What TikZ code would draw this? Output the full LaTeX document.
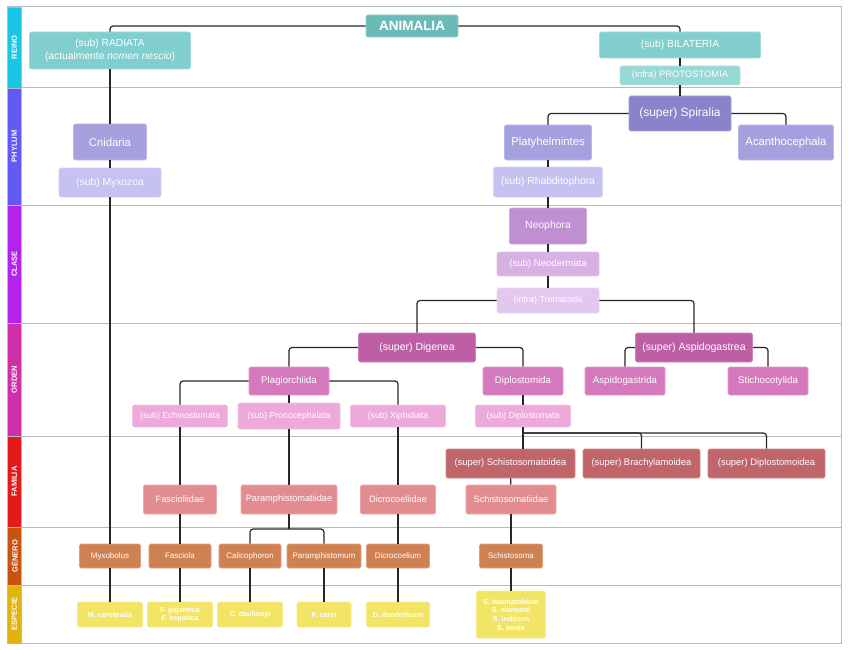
\documentclass[tikz,border=0pt]{standalone}
\usepackage{fontspec}
\setmainfont{Liberation Sans}
\usepackage{tikz}
\usetikzlibrary{
  chains,
  scopes,
  positioning
}

\definecolor{bandReino}{HTML}{1AC6E6}
\definecolor{bandPhylum}{HTML}{615AF7}
\definecolor{bandClase}{HTML}{B422EE}
\definecolor{bandOrden}{HTML}{D02FA9}
\definecolor{bandFamilia}{HTML}{E3191A}
\definecolor{bandGenero}{HTML}{C9520F}
\definecolor{bandEspecie}{HTML}{E2B30E}
\definecolor{frameGray}{HTML}{B5B9C1}
\definecolor{cAnimalia}{HTML}{6CBAB8}
\definecolor{cReino}{HTML}{80CECE}
\definecolor{cInfraReino}{HTML}{95D8D6}
\definecolor{cSuperPhylum}{HTML}{8883CA}
\definecolor{cPhylum}{HTML}{A5A1DE}
\definecolor{cSubPhylum}{HTML}{C5C1F0}
\definecolor{cClase}{HTML}{BE8FD1}
\definecolor{cSubClase}{HTML}{D6B1E2}
\definecolor{cInfraClase}{HTML}{E2C8EE}
\definecolor{cSuperOrden}{HTML}{BE5FA5}
\definecolor{cOrden}{HTML}{D579BE}
\definecolor{cSubOrden}{HTML}{EDA9D9}
\definecolor{cSuperFamilia}{HTML}{C06569}
\definecolor{cFamilia}{HTML}{E28C8F}
\definecolor{cGenero}{HTML}{D08152}
\definecolor{cEspecie}{HTML}{F2E565}

\begin{document}
\begin{tikzpicture}[
      x=1pt, y=-1pt,
      taxon/.style={
         rectangle,
         rounded corners=1.5pt,
         fill=#1,
         draw=#1!75!white,
         line width=0.6pt,
         text=white,
         inner sep=1pt,
         align=center
      },
      animalia/.style={taxon=cAnimalia, font=\bfseries\fontsize{13.5}{15}\selectfont},
      reino/.style={taxon=cReino, font=\fontsize{10.3}{12.5}\selectfont},
      infrareino/.style={taxon=cInfraReino, font=\fontsize{9.4}{11}\selectfont},
      superphylum/.style={taxon=cSuperPhylum, font=\fontsize{12}{14}\selectfont},
      phylum/.style={taxon=cPhylum, font=\fontsize{11.3}{13}\selectfont},
      subphylum/.style={taxon=cSubPhylum, font=\fontsize{10.3}{12}\selectfont},
      clase/.style={taxon=cClase, font=\fontsize{10.4}{12}\selectfont},
      subclase/.style={taxon=cSubClase, font=\fontsize{9.6}{11}\selectfont},
      infraclase/.style={taxon=cInfraClase, font=\fontsize{8.9}{10}\selectfont},
      superorden/.style={taxon=cSuperOrden, font=\fontsize{10.5}{12}\selectfont},
      orden/.style={taxon=cOrden, font=\fontsize{9.7}{11}\selectfont},
      suborden/.style={taxon=cSubOrden, font=\fontsize{8.7}{10}\selectfont},
      superfamilia/.style={taxon=cSuperFamilia, font=\fontsize{9.4}{11}\selectfont},
      familia/.style={taxon=cFamilia, font=\fontsize{9.2}{11}\selectfont},
      genero/.style={taxon=cGenero, font=\fontsize{8}{9.5}\selectfont},
      especie/.style={taxon=cEspecie, font=\bfseries\fontsize{7.2}{8.7}\selectfont},
      band/.style={rotate=90, text=white, font=\bfseries\fontsize{7.5}{8}\selectfont},
      frame/.style={draw=frameGray, line width=1pt},
      point/.style={coordinate},
      every join/.style={rounded corners=3pt, draw=black!85, line width=1.2pt},
      hv path/.style={to path={-| (\tikztotarget)}},
      vh path/.style={to path={|- (\tikztotarget)}}
    ]
    \useasboundingbox (0,0) rectangle (848,650);

    % rows and ranks
    \draw[frame] (7,7) rectangle (841,643);
    \foreach \y in {88,205,323,436,527,585}
       \draw[frame] (7,\y) -- (841,\y);
    \foreach \ya/\yb/\col/\lab [count=\i] in {7/88/bandReino/REINO, 88/205/bandPhylum/PHYLUM,
          205/323/bandClase/CLASE, 323/436/bandOrden/ORDEN, 436/527/bandFamilia/FAMILIA,
          527/585/bandGenero/GÉNERO, 585/643/bandEspecie/ESPECIE} {
       \filldraw[fill=\col, draw=frameGray, line width=0.8pt] (7,\ya) rectangle (21.5,\yb);
       \node (band\i) [band] at (14.3,{(\ya+\yb)/2}) {\lab};
    }

    % reino
    \node (anim) [animalia, minimum width=92, minimum height=22] at (412,26) {ANIMALIA};
    \node (radiata) [reino, minimum width=161, minimum height=37] at (110,50.5) {(sub) RADIATA\\(actualmente \textit{nomen nescio})};
    \node (bilateria) [reino, minimum width=161, minimum height=26] at (680,45) {(sub) BILATERIA};
    \node (protostomia) [infrareino, minimum width=120, minimum height=19] at (680,75.5) {(infra) PROTOSTOMIA};
    % phylum
    \node (spiralia) [superphylum, minimum width=102, minimum height=35] at (680,113.5) {(super) Spiralia};
    \node (cnidaria) [phylum, minimum width=73, minimum height=36] at (110,142) {Cnidaria};
    \node (platy) [phylum, minimum width=87, minimum height=35] at (548,142.5) {Platyhelmintes};
    \node (acantho) [phylum, minimum width=95, minimum height=35] at (786,142.5) {Acanthocephala};
    \node (myxozoa) [subphylum, minimum width=102, minimum height=29] at (110,182.5) {(sub) Myxozoa};
    \node (rhabdito) [subphylum, minimum width=109, minimum height=30] at (548,182) {(sub) Rhabditophora};
    % clase
    \node (neophora) [clase, minimum width=77, minimum height=36] at (548,226) {Neophora};
    \node (neodermata) [subclase, minimum width=102, minimum height=24] at (548,264) {(sub) Neodermata};
    \node (trematoda) [infraclase, minimum width=102, minimum height=25] at (548,300.5) {(infra) Trematoda};
    % orden
    \node (digenea) [superorden, minimum width=117, minimum height=29] at (417,347.5) {(super) Digenea};
    \node (aspidogastrea) [superorden, minimum width=117, minimum height=29] at (694,347.5) {(super) Aspidogastrea};
    \node (plagio) [orden, minimum width=80, minimum height=28] at (289,381) {Plagiorchiida};
    \node (diplostomida) [orden, minimum width=80, minimum height=28] at (523,381) {Diplostomida};
    \node (aspidogastrida) [orden, minimum width=80, minimum height=28] at (625,381) {Aspidogastrida};
    \node (stichocotylida) [orden, minimum width=80, minimum height=28] at (768,381) {Stichocotylida};
    \node (echino) [suborden, minimum width=95, minimum height=22] at (180,416) {(sub) Echinostomata};
    \node (pronoceph) [suborden, minimum width=102, minimum height=26] at (289,416) {(sub) Pronocephalata};
    \node (xiphi) [suborden, minimum width=95, minimum height=22] at (398,416) {(sub) Xiphidiata};
    \node (diplostomata) [suborden, minimum width=95, minimum height=22] at (523,416) {(sub) Diplostomata};
    % familia
    \node (schistoidea) [superfamilia, minimum width=129, minimum height=29] at (510.5,463.5) {(super) Schistosomatoidea};
    \node (brachy) [superfamilia, minimum width=117, minimum height=29] at (641.5,463.5) {(super) Brachylamoidea};
    \node (diplostoidea) [superfamilia, minimum width=117, minimum height=29] at (766.5,463.5) {(super) Diplostomoidea};
    \node (fasciolidae) [familia, minimum width=73, minimum height=29] at (180,499.5) {Fascioliidae};
    \node (paramphidae) [familia, minimum width=96, minimum height=29] at (289,499.5) {Paramphistomatiidae};
    \node (dicrocoeliidae) [familia, minimum width=75, minimum height=29] at (398,499.5) {Dicrocoeliidae};
    \node (schistidae) [familia, minimum width=90, minimum height=29] at (511,499.5) {Schistosomatiidae};
    % genero
    \node (myxobolus) [genero, minimum width=61, minimum height=24] at (110,556) {Myxobolus};
    \node (fasciola) [genero, minimum width=62, minimum height=24] at (180,556) {Fasciola};
    \node (calicophoron) [genero, minimum width=62, minimum height=24] at (250,556) {Calicophoron};
    \node (paramphistomum) [genero, minimum width=74, minimum height=24] at (324,556) {Paramphistomum};
    \node (dicrocoelium) [genero, minimum width=63, minimum height=24] at (398,556) {Dicrocoelium};
    \node (schistosoma) [genero, minimum width=63, minimum height=24] at (511,556) {Schistosoma};
    % especie
    \node (mcerebralis) [especie, minimum width=65, minimum height=25] at (110,614.5) {M. cerebralis};
    \node (fgigantica) [especie, minimum width=65, minimum height=25] at (180,614.5) {F. gigantica\\F. hepatica};
    \node (cdaubneyi) [especie, minimum width=65, minimum height=25] at (250,614.5) {C. daubneyi};
    \node (pcervi) [especie, minimum width=54, minimum height=25] at (324,614.5) {P. cervi};
    \node (ddendriticum) [especie, minimum width=63, minimum height=25] at (398,614.5) {D. dendriticum};
    \node (sspp) [especie, minimum width=69, minimum height=47] at (511,614.5) {S. haematobium\\S. mansoni\\S. indicum\\S. bovis};
    % forks
    \node (pfork) [point] at (289,529) {};
    \node (dfork) [point] at (523,433) {};

  { [start chain]
       \chainin (anim);
       \chainin (radiata)    [join=by hv path];
       \chainin (cnidaria)    [join];
       \chainin (myxozoa)    [join];
       \chainin (myxobolus)    [join];
       \chainin (mcerebralis)    [join];
  }
  { [start chain]
       \chainin (anim);
       \chainin (bilateria)    [join=by hv path];
       \chainin (protostomia)    [join];
       \chainin (spiralia)    [join];
       \chainin (platy)    [join=by hv path];
       \chainin (rhabdito)    [join];
       \chainin (neophora)    [join];
       \chainin (neodermata)    [join];
       \chainin (trematoda)    [join];
       \chainin (digenea)    [join=by hv path];
       \chainin (plagio)    [join=by hv path];
       \chainin (pronoceph)    [join];
       \chainin (paramphidae)    [join];
       \chainin (pfork)    [join];
       \chainin (calicophoron)    [join=by hv path];
       \chainin (cdaubneyi)    [join];
  }
  { [start chain]
       \chainin (spiralia);
       \chainin (acantho)    [join=by hv path];
  }
  { [start chain]
       \chainin (trematoda);
       \chainin (aspidogastrea)    [join=by hv path];
       \chainin (aspidogastrida)    [join=by hv path];
  }
  { [start chain]
       \chainin (aspidogastrea);
       \chainin (stichocotylida)    [join=by hv path];
  }
  { [start chain]
       \chainin (plagio);
       \chainin (echino)    [join=by hv path];
       \chainin (fasciolidae)    [join];
       \chainin (fasciola)    [join];
       \chainin (fgigantica)    [join];
  }
  { [start chain]
       \chainin (plagio);
       \chainin (xiphi)    [join=by hv path];
       \chainin (dicrocoeliidae)    [join];
       \chainin (dicrocoelium)    [join];
       \chainin (ddendriticum)    [join];
  }
  { [start chain]
       \chainin (pfork);
       \chainin (paramphistomum)    [join=by hv path];
       \chainin (pcervi)    [join];
  }
  { [start chain]
       \chainin (digenea);
       \chainin (diplostomida)    [join=by hv path];
       \chainin (diplostomata)    [join];
       \chainin (dfork)    [join];
       \chainin (brachy)    [join=by hv path];
  }
  { [start chain]
       \chainin (dfork);
       \chainin (diplostoidea)    [join=by hv path];
  }
  \draw[every join] (dfork) -- (dfork |- schistoidea.north);
  { [start chain]
       \chainin (schistoidea);
       \chainin (schistidae)    [join];
       \chainin (schistosoma)    [join];
       \chainin (sspp)    [join];
  }
\end{tikzpicture}
\end{document}
